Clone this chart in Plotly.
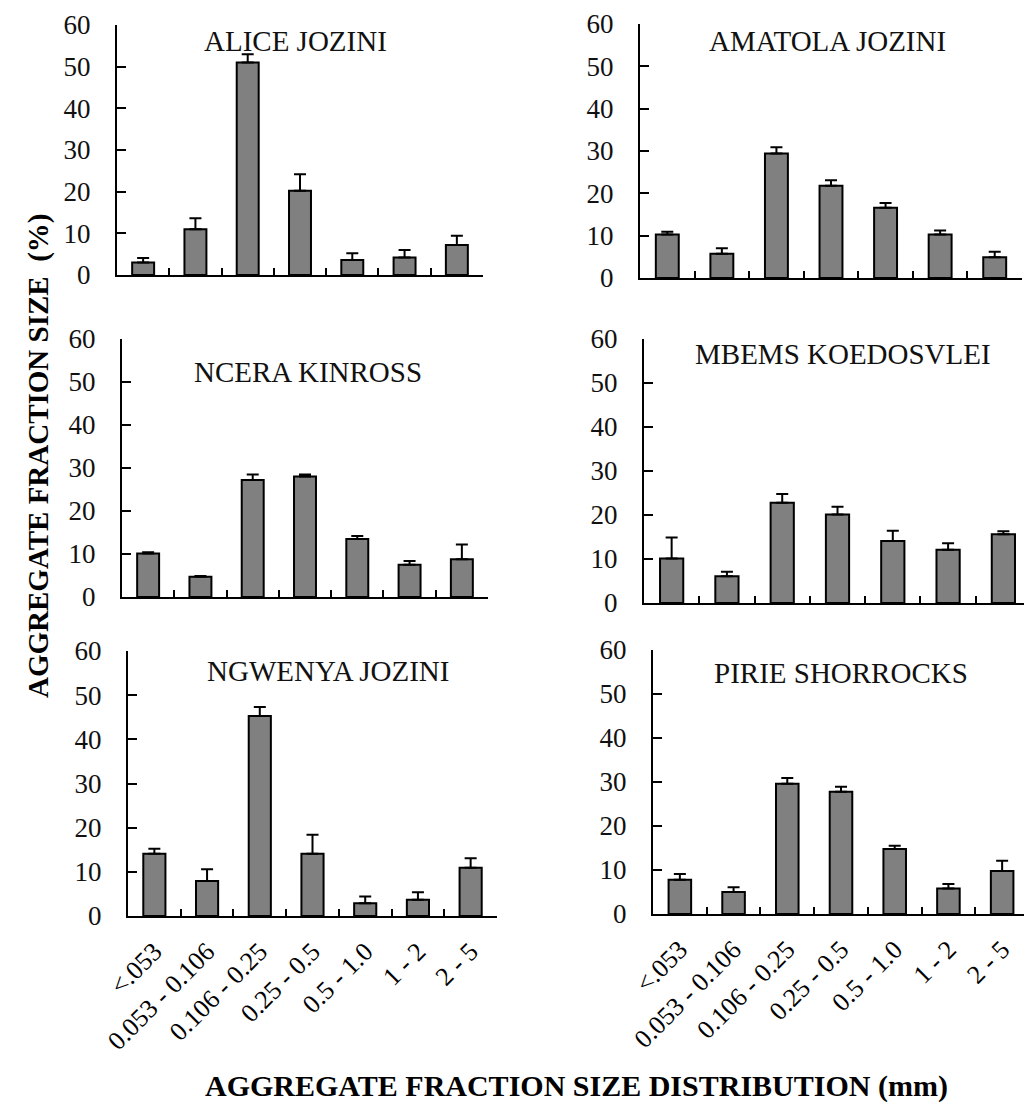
import plotly.graph_objects as go

# Aggregate size classes (mm)
size_classes = ["<.053", "0.053 - 0.106", "0.106 - 0.25", "0.25 - 0.5",
                "0.5 - 1.0", "1 - 2", "2 - 5"]

# Mean fraction (%) per site and the upper standard error
alice_jozini = [3.0, 11.0, 51.0, 20.2, 3.6, 4.2, 7.2]
alice_jozini_err = [1.1, 2.6, 2.0, 4.0, 1.6, 1.8, 2.2]

amatola_jozini = [10.3, 5.7, 29.4, 21.8, 16.6, 10.3, 4.9]
amatola_jozini_err = [0.6, 1.3, 1.5, 1.3, 1.1, 0.9, 1.3]

ncera_kinross = [10.1, 4.7, 27.2, 28.0, 13.5, 7.5, 8.8]
ncera_kinross_err = [0.3, 0.2, 1.3, 0.5, 0.7, 0.9, 3.4]

mbems_koedosvlei = [10.1, 6.1, 22.8, 20.1, 14.1, 12.1, 15.6]
mbems_koedosvlei_err = [4.8, 1.0, 2.0, 1.8, 2.3, 1.5, 0.7]

ngwenya_jozini = [14.1, 7.9, 45.3, 14.1, 2.9, 3.7, 10.9]
ngwenya_jozini_err = [1.1, 2.7, 2.0, 4.3, 1.5, 1.7, 2.2]

pirie_shorrocks = [7.8, 5.0, 29.6, 27.8, 14.8, 5.8, 9.8]
pirie_shorrocks_err = [1.3, 1.1, 1.3, 1.1, 0.7, 1.0, 2.3]

site_names = ["ALICE JOZINI", "AMATOLA JOZINI", "NCERA KINROSS",
              "MBEMS KOEDOSVLEI", "NGWENYA JOZINI", "PIRIE SHORROCKS"]
site_values = [alice_jozini, amatola_jozini, ncera_kinross,
               mbems_koedosvlei, ngwenya_jozini, pirie_shorrocks]
site_errors = [alice_jozini_err, amatola_jozini_err, ncera_kinross_err,
               mbems_koedosvlei_err, ngwenya_jozini_err, pirie_shorrocks_err]

y_ticks = [0, 10, 20, 30, 40, 50, 60]

W, H = 1024, 1104
SERIF = "Liberation Serif"

# Panel boxes in pixels: (left, right, bottom/zero, top/60, x-range end, title x, title y)
panels = [
    (117, 483, 275, 25, 6.5, 295, 41),
    (640, 1022, 278, 24, 6.5, 827, 41),
    (122, 488, 597, 339, 6.5, 308, 372),
    (644, 1024, 603, 339, 6.373, 843, 354),
    (128, 497, 916, 651, 6.5, 328, 671),
    (653, 1024, 914, 650, 6.407, 841, 673),
]

fig = go.Figure()
layout = {}
annotations = []

for i, (name, vals, errs, box) in enumerate(zip(site_names, site_values,
                                                 site_errors, panels)):
    left, right, bottom, top, xend, tx, ty = box
    n = "" if i == 0 else str(i + 1)
    fig.add_trace(go.Bar(
        x=size_classes, y=vals,
        xaxis="x" + n, yaxis="y" + n,
        marker=dict(color="#808080", line=dict(color="#000000", width=2)),
        width=0.42,
        error_y=dict(type="data", symmetric=False, array=errs,
                     arrayminus=[0] * len(errs), color="#000000",
                     thickness=2, width=6),
        showlegend=False,
    ))
    bottom_row = i >= 4
    layout["xaxis" + n] = dict(
        domain=[left / W, right / W], anchor="y" + n,
        type="category", range=[-0.5, xend], automargin=False,
        showline=True, linecolor="#000000", linewidth=2,
        ticks="inside", tickson="boundaries", ticklen=7, tickwidth=2,
        tickcolor="#000000", showgrid=False, zeroline=False,
        showticklabels=bottom_row, tickangle=-45,
        tickfont=dict(family=SERIF, size=26, color="#000000"),
        ticklabelstandoff=8,
    )
    layout["yaxis" + n] = dict(
        domain=[1 - bottom / H, 1 - top / H], anchor="x" + n,
        range=[0, 60], tickvals=y_ticks, automargin=False,
        showline=True, linecolor="#000000", linewidth=2,
        ticks="inside", ticklen=9, tickwidth=2, tickcolor="#000000",
        showgrid=False, zeroline=False,
        tickfont=dict(family=SERIF, size=27, color="#111111"),
        ticklabelstandoff=19,
    )
    annotations.append(dict(
        text=name, x=tx / W, y=1 - ty / H, xref="paper", yref="paper",
        xanchor="center", yanchor="middle", showarrow=False,
        font=dict(family=SERIF, size=29, color="#111111"),
    ))

annotations.append(dict(
    text="<b>AGGREGATE FRACTION SIZE\u00a0\u00a0(%)</b>",
    x=38 / W, y=1 - 456 / H, xref="paper", yref="paper",
    xanchor="center", yanchor="middle", textangle=-90, showarrow=False,
    font=dict(family=SERIF, size=29, color="#000000"),
))
annotations.append(dict(
    text="<b>AGGREGATE FRACTION SIZE DISTRIBUTION (mm)</b>",
    x=576 / W, y=1 - 1086 / H, xref="paper", yref="paper",
    xanchor="center", yanchor="middle", showarrow=False,
    font=dict(family=SERIF, size=30, color="#000000"),
))

fig.update_layout(
    template="none",
    width=W, height=H,
    margin=dict(l=0, r=0, t=0, b=0, autoexpand=False),
    paper_bgcolor="#ffffff", plot_bgcolor="#ffffff",
    bargap=0.58,
    annotations=annotations,
    **layout,
)

fig.write_html("out.html")
